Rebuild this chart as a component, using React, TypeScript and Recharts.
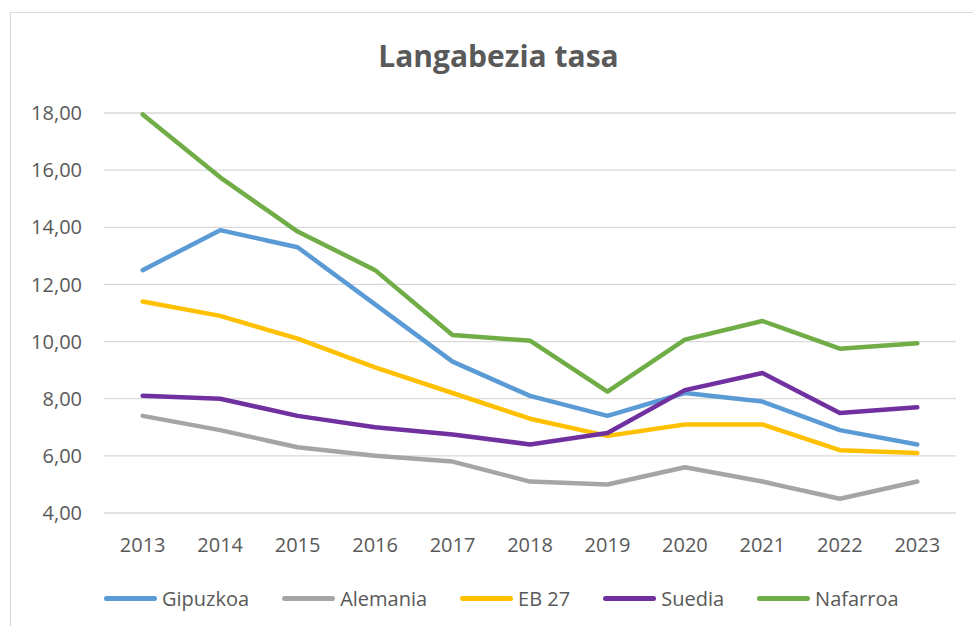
import { LineChart, Line, XAxis, YAxis, CartesianGrid, Legend } from 'recharts';

const years = ['2013', '2014', '2015', '2016', '2017', '2018', '2019', '2020', '2021', '2022', '2023'];

const gipuzkoa = [12.5, 13.9, 13.3, 11.3, 9.3, 8.1, 7.4, 8.2, 7.9, 6.9, 6.4];
const alemania = [7.4, 6.9, 6.3, 6.0, 5.8, 5.1, 5.0, 5.6, 5.1, 4.5, 5.1];
const eb27 = [11.4, 10.9, 10.1, 9.1, 8.2, 7.3, 6.7, 7.1, 7.1, 6.2, 6.1];
const suedia = [8.1, 8.0, 7.4, 7.0, 6.75, 6.4, 6.8, 8.3, 8.9, 7.5, 7.7];
const nafarroa = [17.95, 15.75, 13.85, 12.5, 10.23, 10.03, 8.25, 10.07, 10.72, 9.75, 9.94];

const yTicks = [4, 6, 8, 10, 12, 14, 16, 18];

const series = [
  { key: 'Gipuzkoa', values: gipuzkoa, color: '#5B9BD5' },
  { key: 'Alemania', values: alemania, color: '#A5A5A5' },
  { key: 'EB 27', values: eb27, color: '#FFC000' },
  { key: 'Suedia', values: suedia, color: '#7030A0' },
  { key: 'Nafarroa', values: nafarroa, color: '#70AD47' },
];

const data = years.map((year, i) => {
  const row: Record<string, string | number> = { year };
  series.forEach(s => { row[s.key] = s.values[i]; });
  return row;
});

const FONT = '"Open Sans", sans-serif';
const TEXT = '#595959';

function LegendContent() {
  return (
    <div style={{ display: 'flex', alignItems: 'center', height: 30, paddingLeft: 93, fontFamily: FONT, fontSize: 20, color: TEXT }}>
      {series.map(s => (
        <div key={s.key} style={{ display: 'flex', alignItems: 'center', marginRight: 33 }}>
          <span style={{ display: 'inline-block', width: 53, height: 5, borderRadius: 3, background: s.color, marginRight: 5 }} />
          <span>{s.key}</span>
        </div>
      ))}
    </div>
  );
}

export default function App() {
  const W = 963;
  const H = 614;
  return (
    <div style={{ position: 'fixed', left: 10, top: 12, width: W, height: H, borderTop: '1px solid #D9D9D9', borderLeft: '1px solid #D9D9D9', background: '#fff' }}>
      <div style={{ position: 'absolute', top: 22, left: 0, width: W + 12, textAlign: 'center', fontFamily: FONT, fontWeight: 700, fontSize: 30, color: TEXT }}>
        Langabezia tasa
      </div>
      <LineChart width={W} height={H} data={data} margin={{ top: 100, right: 18, left: 0, bottom: 14 }}>
        <CartesianGrid vertical={false} stroke="#D9D9D9" strokeWidth={1.3} />
        <XAxis
          dataKey="year"
          axisLine={false}
          tickLine={false}
          tickSize={0}
          tickMargin={25}
          height={70}
          padding={{ left: 38.7, right: 38.7 }}
          tick={{ fill: TEXT, fontSize: 20, fontFamily: FONT }}
        />
        <YAxis
          domain={[4, 18]}
          ticks={yTicks}
          axisLine={false}
          tickLine={false}
          tickSize={0}
          tickMargin={22}
          width={93}
          tickFormatter={(v: number) => v.toFixed(2).replace('.', ',')}
          tick={{ fill: TEXT, fontSize: 20, fontFamily: FONT }}
        />
        <Legend verticalAlign="bottom" content={() => <LegendContent />} />
        {series.map(s => (
          <Line
            key={s.key}
            type="linear"
            dataKey={s.key}
            stroke={s.color}
            strokeWidth={4.5}
            strokeLinecap="round"
            strokeLinejoin="round"
            dot={false}
            activeDot={false}
            isAnimationActive={false}
          />
        ))}
      </LineChart>
    </div>
  );
}
